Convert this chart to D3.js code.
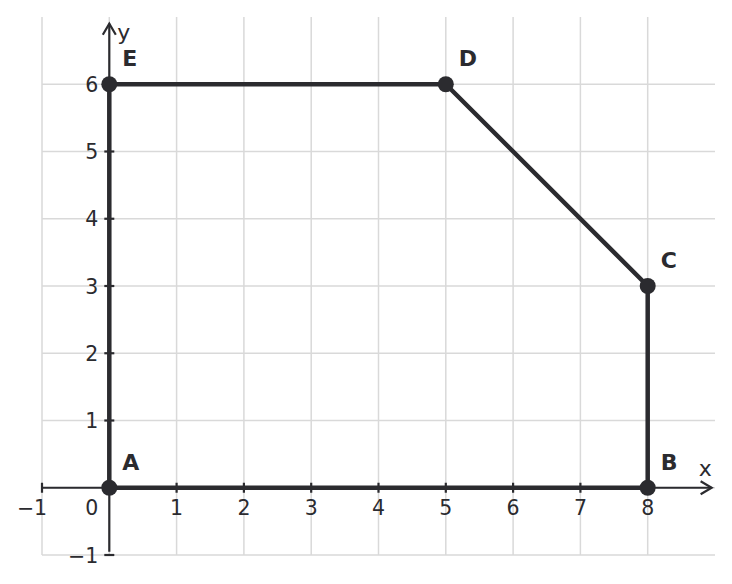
<!DOCTYPE html>
<html>
<head>
<meta charset="utf-8">
<script src="https://cdn.jsdelivr.net/npm/d3@7"></script>
<style>
  body { margin: 0; background: #fff; }
  svg text { font-family: "DejaVu Sans", sans-serif; }
</style>
</head>
<body>
<div id="chart"></div>
<script>
// polygon vertices A..E
const pointNames = ["A", "B", "C", "D", "E"];
const pointX = [0, 8, 8, 5, 0];
const pointY = [0, 0, 3, 6, 6];

const xTicks = [-1, 1, 2, 3, 4, 5, 6, 7, 8];
const yTicks = [-1, 1, 2, 3, 4, 5, 6];
const xGrid = [-1, 0, 1, 2, 3, 4, 5, 6, 7, 8];
const yGrid = [-1, 0, 1, 2, 3, 4, 5, 6];

const W = 732, H = 584;
const ink = "#2b2b2f";
const gridColor = "#d9d9d9";

const svg = d3.select("#chart").append("svg")
    .attr("width", W)
    .attr("height", H);

const xScale = d3.scaleLinear().domain([-1, 9]).range([42, 715]);
const yScale = d3.scaleLinear().domain([-1, 7]).range([555, 17]);

// grid
svg.append("g").selectAll("line.v")
    .data(xGrid).join("line")
    .attr("x1", d => xScale(d)).attr("x2", d => xScale(d))
    .attr("y1", yScale(7)).attr("y2", yScale(-1))
    .attr("stroke", gridColor).attr("stroke-width", 1.5);

svg.append("g").selectAll("line.h")
    .data(yGrid).join("line")
    .attr("x1", xScale(-1)).attr("x2", xScale(9))
    .attr("y1", d => yScale(d)).attr("y2", d => yScale(d))
    .attr("stroke", gridColor).attr("stroke-width", 1.5);

// axes with arrows
const x0 = xScale(0), y0 = yScale(0);
const xEnd = xScale(8.95), yEnd = yScale(6.9);
const axisG = svg.append("g").attr("stroke", ink).attr("fill", "none");

axisG.append("line")
    .attr("x1", xScale(-1)).attr("x2", xEnd)
    .attr("y1", y0).attr("y2", y0)
    .attr("stroke-width", 2.2);
axisG.append("path")
    .attr("d", `M${xEnd - 11},${y0 - 6.5} L${xEnd},${y0} L${xEnd - 11},${y0 + 6.5}`)
    .attr("stroke-width", 2.2);

axisG.append("line")
    .attr("x1", x0).attr("x2", x0)
    .attr("y1", yScale(-0.95)).attr("y2", yEnd)
    .attr("stroke-width", 2.2);
axisG.append("path")
    .attr("d", `M${x0 - 6.5},${yEnd + 11} L${x0},${yEnd} L${x0 + 6.5},${yEnd + 11}`)
    .attr("stroke-width", 2.2);

// ticks
axisG.selectAll("line.xt")
    .data(xTicks).join("line")
    .attr("x1", d => xScale(d)).attr("x2", d => xScale(d))
    .attr("y1", y0 - 5).attr("y2", y0 + 5)
    .attr("stroke-width", 2.2);
axisG.selectAll("line.yt")
    .data(yTicks).join("line")
    .attr("x1", x0 - 5).attr("x2", x0 + 5)
    .attr("y1", d => yScale(d)).attr("y2", d => yScale(d))
    .attr("stroke-width", 2.2);

const fmt = d => d < 0 ? "\u2212" + Math.abs(d) : String(d);

// tick labels
svg.append("g").selectAll("text")
    .data(xTicks).join("text")
    .attr("x", d => xScale(d) - (d < 0 ? 10 : 0))
    .attr("y", y0 + 27)
    .attr("text-anchor", "middle")
    .attr("font-size", 20.5)
    .attr("fill", ink)
    .text(fmt);

svg.append("g").selectAll("text")
    .data(yTicks).join("text")
    .attr("x", x0 - 11)
    .attr("y", d => yScale(d) + 7.5)
    .attr("text-anchor", "end")
    .attr("font-size", 20.5)
    .attr("fill", ink)
    .text(fmt);

svg.append("text")
    .attr("x", x0 - 11).attr("y", y0 + 27)
    .attr("text-anchor", "end")
    .attr("font-size", 20.5).attr("fill", ink)
    .text("0");

// axis names
svg.append("text")
    .attr("x", xScale(8.76)).attr("y", y0 - 12)
    .attr("font-size", 22).attr("fill", ink)
    .text("x");
svg.append("text")
    .attr("x", x0 + 8).attr("y", yScale(6.66))
    .attr("font-size", 22).attr("fill", ink)
    .text("y");

// polygon
const pts = pointX.map((x, i) => ({x: x, y: pointY[i], name: pointNames[i]}));

svg.append("path")
    .datum(pts)
    .attr("d", d3.line().x(d => xScale(d.x)).y(d => yScale(d.y)).curve(d3.curveLinearClosed))
    .attr("fill", "none")
    .attr("stroke", ink)
    .attr("stroke-width", 4.5)
    .attr("stroke-linejoin", "round");

svg.append("g").selectAll("circle")
    .data(pts).join("circle")
    .attr("cx", d => xScale(d.x))
    .attr("cy", d => yScale(d.y))
    .attr("r", 8)
    .attr("fill", ink);

svg.append("g").selectAll("text")
    .data(pts).join("text")
    .attr("x", d => xScale(d.x) + 13)
    .attr("y", d => yScale(d.y) - 18)
    .attr("font-size", 22)
    .attr("font-weight", "bold")
    .attr("fill", ink)
    .text(d => d.name);
</script>
</body>
</html>
